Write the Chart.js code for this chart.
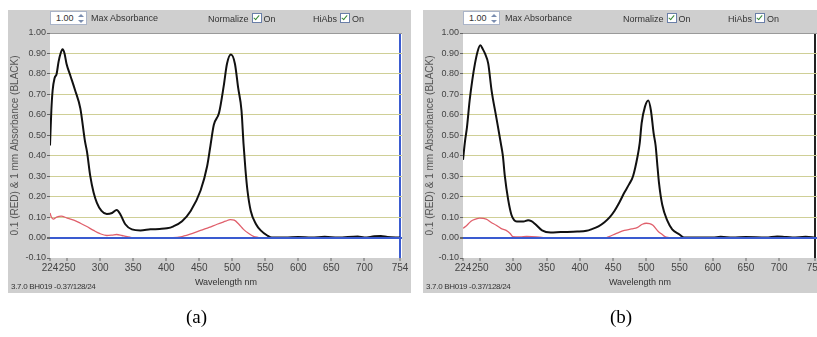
<!DOCTYPE html>
<html><head><meta charset="utf-8">
<script src="https://cdn.jsdelivr.net/npm/chart.js@4/dist/chart.umd.min.js"></script>
<style>
html,body{margin:0;padding:0;background:#fff;width:817px;height:337px;overflow:hidden;position:relative;font-family:"Liberation Sans",Arial,sans-serif;}
.panel{position:absolute;top:10px;height:283px;background:#cfcfcf;overflow:hidden;}
.cv{position:absolute;top:0;left:0;}
.hdr{position:absolute;font-size:9px;color:#333;white-space:nowrap;}
.box{position:absolute;top:1px;width:37px;height:14px;background:#fff;border:1px solid #aab4c8;box-sizing:border-box;font-size:9px;color:#333;}
.box span{position:absolute;left:5px;top:1px;}
.spin{position:absolute;right:2px;top:2px;width:6px;height:9px;}
.spin:before{content:"";position:absolute;left:0;top:0;border-left:3px solid transparent;border-right:3px solid transparent;border-bottom:3px solid #7a8db0;}
.spin:after{content:"";position:absolute;left:0;bottom:0;border-left:3px solid transparent;border-right:3px solid transparent;border-top:3px solid #7a8db0;}
.cb{display:inline-block;width:8px;height:8px;border:1px solid #6a7fa8;background:#fff;vertical-align:-1px;margin:0 2px 0 3px;position:relative;}
.cb:after{content:"";position:absolute;left:2px;top:0px;width:2px;height:5px;border:solid #3a8a3a;border-width:0 1px 1px 0;transform:rotate(40deg);}
.foot{position:absolute;top:272px;left:3px;font-size:8px;color:#333;font-family:"Liberation Sans Narrow","Liberation Sans",sans-serif;letter-spacing:-0.3px;}
.cap{position:absolute;top:306px;font-family:"Liberation Serif","Times New Roman",serif;font-size:19px;color:#000;}
</style></head>
<body>
<div class="panel" id="pA" style="left:8px;width:403px;">
  <canvas class="cv" id="cA" width="403" height="283"></canvas>
</div>
<div class="panel" id="pB" style="left:423px;width:394px;">
  <canvas class="cv" id="cB" width="403" height="283"></canvas>
</div>
<div class="cap" style="left:186px;">(a)</div>
<div class="cap" style="left:610px;">(b)</div>
<script>
// ---------- data ----------
const xTickValues = [224, 250, 300, 350, 400, 450, 500, 550, 600, 650, 700, 754];
const yTickMin = -0.1;
const yTickMax = 1.0;

// panel (a): 1 mm absorbance (black)
const waveA_black = [224,226,228,231,234,237,240,243,246,249,255,262,270,277,280,285,290,295,302,310,318,325,331,338,348,361,376,390,401,411,424,437,452,462,467,472,480,487,492,498,504,509,514,517,520,523,528,536,543,553,560,580,600,620,640,660,690,700,715,725,735,754];
const absA_black  = [0.45,0.62,0.72,0.78,0.80,0.86,0.90,0.92,0.90,0.85,0.79,0.72,0.63,0.47,0.42,0.30,0.22,0.17,0.13,0.115,0.12,0.135,0.11,0.065,0.04,0.035,0.04,0.042,0.045,0.055,0.08,0.13,0.23,0.35,0.45,0.55,0.61,0.74,0.85,0.895,0.85,0.73,0.62,0.46,0.33,0.23,0.13,0.065,0.035,0.01,0.0,0.0,0.003,0.0,0.004,0.0,0.005,0.0,0.006,0.008,0.003,0.0];
// panel (a): 0.1 mm absorbance (red)
const waveA_red = [224,226,229,234,241,250,260,270,279,290,299,310,318,325,333,341,348,380,410,424,440,452,465,477,490,497,503,510,517,525,533,540];
const absA_red  = [0.12,0.10,0.09,0.10,0.105,0.095,0.085,0.07,0.055,0.035,0.02,0.01,0.012,0.015,0.01,0.005,0.0,0.0,0.0,0.005,0.02,0.035,0.05,0.065,0.08,0.088,0.085,0.065,0.04,0.02,0.005,0.0];

// panel (b): 1 mm absorbance (black)
const waveB_black = [224,227,230,234,238,242,246,250,254,257,262,267,274,281,284,287,292,297,301,305,315,322,327,333,343,356,371,396,410,417,428,437,445,452,460,467,474,480,487,490,493,498,503,507,511,514,517,519,524,532,539,550,557,600,612,630,650,680,697,705,720,740,754];
const absB_black  = [0.38,0.47,0.54,0.67,0.77,0.85,0.91,0.94,0.92,0.90,0.85,0.72,0.59,0.46,0.40,0.30,0.185,0.11,0.085,0.078,0.078,0.085,0.08,0.065,0.035,0.025,0.027,0.029,0.033,0.04,0.055,0.075,0.10,0.13,0.175,0.22,0.26,0.30,0.40,0.46,0.56,0.64,0.67,0.62,0.51,0.45,0.34,0.27,0.16,0.08,0.04,0.015,0.0,0.0,0.004,0.0,0.003,0.0,0.005,0.004,0.0,0.004,0.0];
// panel (b): 0.1 mm absorbance (red)
const waveB_red = [224,230,236,243,249,259,266,274,281,289,295,299,310,320,335,345,440,444,455,467,478,487,494,500,505,510,518,524,528,535];
const absB_red  = [0.045,0.06,0.08,0.09,0.095,0.09,0.075,0.06,0.045,0.035,0.02,0.005,0.003,0.005,0.003,0.0,0.0,0.005,0.02,0.035,0.042,0.05,0.065,0.07,0.068,0.06,0.03,0.015,0.005,0.0];

const headerTexts = { value: "1.00", max: "Max Absorbance", norm: "Normalize", hi: "HiAbs", on: "On" };
const yTitle = "0.1 (RED) & 1 mm Absorbance (BLACK)";
const xTitle = "Wavelength nm";
const footText = "3.7.0 BH019 -0.37/128/24";

// ---------- helpers ----------
const toPts = (xs, ys) => xs.map((x, i) => ({ x: x, y: ys[i] }));
const isZero = v => Math.abs(v) < 1e-9;
const near = (a, b) => Math.abs(a - b) < 1e-6;

const plotBg = {
  id: 'plotBg',
  beforeDraw(chart) {
    const a = chart.chartArea, c = chart.ctx;
    c.save(); c.fillStyle = '#ffffff';
    c.fillRect(a.left, a.top, a.right - a.left, a.bottom - a.top);
    c.restore();
  }
};

function addHeader(panel, offs) {
  const p = document.getElementById(panel);
  const h = document.createElement('div');
  h.innerHTML =
    `<div class="box" style="left:${offs.box}px;"><span>${headerTexts.value}</span><div class="spin"></div></div>` +
    `<div class="hdr" style="left:${offs.max}px;top:3px;">${headerTexts.max}</div>` +
    `<div class="hdr" style="left:${offs.norm}px;top:3px;">${headerTexts.norm}<span class="cb"></span>${headerTexts.on}</div>` +
    `<div class="hdr" style="left:${offs.hi}px;top:3px;">${headerTexts.hi}<span class="cb"></span>${headerTexts.on}</div>` +
    `<div class="foot">${footText}</div>`;
  p.appendChild(h);
}

function makeChart(id, black, red, yw, vlineColor) {
  const tickFont = { family: '"Liberation Sans Narrow","Liberation Sans",sans-serif', size: 9 };
  return new Chart(document.getElementById(id), {
    type: 'line',
    data: {
      datasets: [
        { data: black, borderColor: '#111111', borderWidth: 2, pointRadius: 0, cubicInterpolationMode: 'monotone', yAxisID: 'y' },
        { data: red, borderColor: '#e0606c', borderWidth: 1.3, pointRadius: 0, cubicInterpolationMode: 'monotone', yAxisID: 'y' }
      ]
    },
    options: {
      responsive: false, animation: false, devicePixelRatio: 1,
      plugins: { legend: { display: false }, tooltip: { enabled: false } },
      layout: { padding: { top: 23, right: 9, left: 0, bottom: 0 } },
      scales: {
        x: {
          type: 'linear', min: 224, max: 757,
          afterBuildTicks: s => { s.ticks = xTickValues.map(v => ({ value: v })); },
          afterFit: s => { s.height = 35; },
          border: { display: false },
          grid: {
            color: c => (c.tick && near(c.tick.value, 754)) ? vlineColor : 'rgba(0,0,0,0)',
            lineWidth: 2, tickColor: '#666', tickLength: 3, tickWidth: 1
          },
          ticks: { autoSkip: false, maxRotation: 0, font: { family: tickFont.family, size: 10 }, color: '#444', padding: 1 },
          title: { display: true, text: xTitle, font: { family: tickFont.family, size: 9 }, color: '#333', padding: { top: 0, bottom: 5 } }
        },
        y: {
          type: 'linear', position: 'left', min: yTickMin, max: yTickMax,
          afterFit: s => { s.width = yw; },
          border: { display: false },
          grid: {
            color: c => {
              const v = c.tick ? c.tick.value : 0;
              if (near(v, 1.0)) return '#9a9a9a';
              if (near(v, -0.1)) return 'rgba(0,0,0,0)';
              if (isZero(v)) return '#3a5bd0';
              return '#cfcf96';
            },
            lineWidth: c => (c.tick && isZero(c.tick.value)) ? 2 : 1,
            tickColor: '#666', tickLength: 3
          },
          ticks: { stepSize: 0.1, font: tickFont, color: '#444', padding: 1, callback: v => Number(v).toFixed(2) },
          title: { display: true, text: yTitle, font: { family: tickFont.family, size: 10 }, color: '#555', padding: { top: 1, bottom: 0 } }
        },
        yz: {
          type: 'linear', position: 'left', min: yTickMin, max: yTickMax,
          afterFit: s => { s.width = 0; },
          border: { display: false },
          ticks: { display: false, stepSize: 0.1 },
          grid: {
            z: 1, drawTicks: false, lineWidth: 2,
            color: c => (c.tick && isZero(c.tick.value)) ? '#3a5bd0' : 'rgba(0,0,0,0)'
          }
        }
      }
    },
    plugins: [plotBg]
  });
}

addHeader('pA', { box: 42, max: 83, norm: 200, hi: 305 });
addHeader('pB', { box: 40, max: 82, norm: 200, hi: 305 });
makeChart('cA', toPts(waveA_black, absA_black), toPts(waveA_red, absA_red), 42, '#3a5bd0');
makeChart('cB', toPts(waveB_black, absB_black), toPts(waveB_red, absB_red), 40, '#222222');
</script>
</body></html>
